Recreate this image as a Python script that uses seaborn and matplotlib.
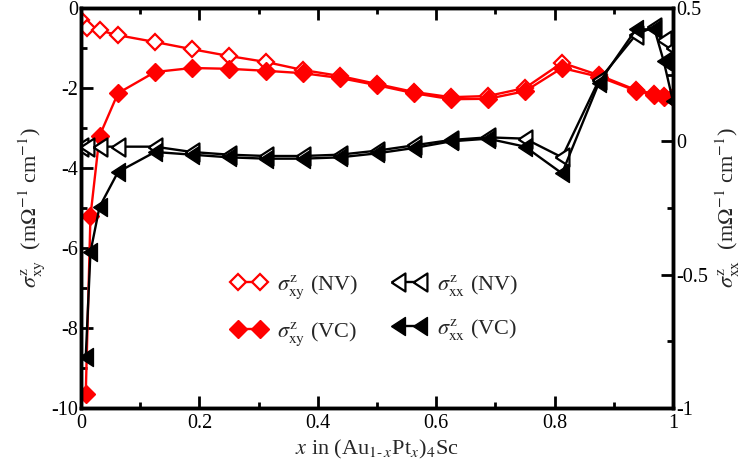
import matplotlib
matplotlib.use("Agg")

import matplotlib.pyplot as plt
import seaborn as sns
from matplotlib.ticker import MultipleLocator, FormatStrFormatter

# composition x for the two data sets (NV = no vertex corr., VC = with vertex corr.)
x_nv = [0.0, 0.01, 0.03125, 0.0625, 0.125, 0.1875, 0.25, 0.3125, 0.375, 0.4375, 0.5,
        0.5625, 0.625, 0.6875, 0.75, 0.8125, 0.875, 0.9375, 0.96875, 0.984375, 1.0]
x_vc = [0.008, 0.016, 0.03125, 0.0625, 0.125, 0.1875, 0.25, 0.3125, 0.375, 0.4375, 0.5,
        0.5625, 0.625, 0.6875, 0.75, 0.8125, 0.875, 0.9375, 0.96875, 0.984375, 1.0]

# sigma^z_xy, left axis
sxy_nv = [-0.3, -0.5, -0.56, -0.68, -0.85, -1.03, -1.2, -1.35, -1.55, -1.7, -1.9,
          -2.1, -2.23, -2.2, -2.0, -1.37, -1.68, -2.05, -2.15, -2.2, -2.22]
sxy_vc = [-9.65, -5.2, -3.2, -2.13, -1.6, -1.5, -1.52, -1.57, -1.63, -1.75, -1.93,
          -2.13, -2.28, -2.27, -2.08, -1.5, -1.72, -2.07, -2.17, -2.22, -2.22]

# sigma^z_xx, right axis
sxx_nv = [-0.02, -0.02, -0.02, -0.02, -0.02, -0.04, -0.05, -0.055, -0.055, -0.05, -0.035,
          -0.015, 0.005, 0.015, 0.01, -0.06, 0.23, 0.40, 0.43, 0.38, 0.35]
sxx_vc = [-0.81, -0.415, -0.246, -0.115, -0.04, -0.05, -0.06, -0.065, -0.065, -0.06, -0.045,
          -0.025, 0.0, 0.01, -0.02, -0.12, 0.22, 0.42, 0.42, 0.30, 0.15]

sns.set_style("ticks")
plt.rcParams["font.family"] = ["Liberation Serif", "DejaVu Serif"]
plt.rcParams["mathtext.fontset"] = "stix"
plt.rcParams["axes.unicode_minus"] = False

# grace-like left triangle, a bit taller than wide
tri = [(-1, 0), (1, -1.3), (1, 1.3), (-1, 0)]

fig = plt.figure(figsize=(7.56, 4.72), dpi=100)
ax = fig.add_axes([81 / 756, 64 / 472, 592 / 756, 400 / 472])
ax2 = ax.twinx()

lw = 1.7
sns.lineplot(x=x_nv, y=sxy_nv, ax=ax, color="red", lw=lw, marker="D", markersize=8.5,
             markerfacecolor="white", markeredgecolor="red", markeredgewidth=1.6,
             label=r"$\sigma^{\mathrm{z}}_{\mathrm{xy}}$ (NV)", legend=False)
sns.lineplot(x=x_vc, y=sxy_vc, ax=ax, color="red", lw=lw, marker="D", markersize=9,
             markerfacecolor="red", markeredgecolor="red", markeredgewidth=1.0,
             label=r"$\sigma^{\mathrm{z}}_{\mathrm{xy}}$ (VC)", legend=False)
sns.lineplot(x=x_nv, y=sxx_nv, ax=ax2, color="black", lw=lw, marker=tri, markersize=13,
             markerfacecolor="white", markeredgecolor="black", markeredgewidth=1.6,
             label=r"$\sigma^{\mathrm{z}}_{\mathrm{xx}}$ (NV)", legend=False)
sns.lineplot(x=x_vc, y=sxx_vc, ax=ax2, color="black", lw=lw, marker=tri, markersize=13,
             markerfacecolor="black", markeredgecolor="black", markeredgewidth=1.0,
             label=r"$\sigma^{\mathrm{z}}_{\mathrm{xx}}$ (VC)", legend=False)

ax.set_xlim(0, 1)
ax.set_ylim(-10, 0)
ax2.set_ylim(-1, 0.5)

ax.xaxis.set_major_locator(MultipleLocator(0.2))
ax.xaxis.set_minor_locator(MultipleLocator(0.1))
ax.yaxis.set_major_locator(MultipleLocator(2))
ax.yaxis.set_minor_locator(MultipleLocator(1))
ax2.yaxis.set_major_locator(MultipleLocator(0.5))
ax2.yaxis.set_minor_locator(MultipleLocator(0.25))
ax.xaxis.set_major_formatter(FormatStrFormatter("%g"))
ax.yaxis.set_major_formatter(FormatStrFormatter("%g"))
ax2.yaxis.set_major_formatter(FormatStrFormatter("%g"))

for a in (ax, ax2):
    for sp in a.spines.values():
        sp.set_linewidth(2.5)
        sp.set_color("black")
    a.tick_params(which="both", direction="in", width=2, colors="black", labelsize=14.5)
    a.tick_params(which="major", length=8.5)
    a.tick_params(which="minor", length=4.5)
ax.tick_params(axis="x", which="both", top=True, bottom=True, pad=4)
ax.tick_params(axis="y", which="both", left=True, right=False, pad=2)
ax2.tick_params(axis="y", which="both", right=True, left=False, pad=2)

ax.set_xlabel(r"$x$ in (Au$_{1\text{-}\,x}$Pt$_{x}$)$_{4}$Sc", fontsize=16, labelpad=4)
ax.set_ylabel(r"$\sigma^{\mathrm{z}}_{\mathrm{xy}}$  (m$\Omega^{-1}$ cm$^{-1}$)", fontsize=16, labelpad=3)
ax2.set_ylabel(r"$\sigma^{\mathrm{z}}_{\mathrm{xx}}$  (m$\Omega^{-1}$ cm$^{-1}$)", fontsize=16,
               rotation=90, labelpad=4)

handles = ax.lines + ax2.lines
labels = [h.get_label() for h in handles]
ax2.legend(handles, labels, ncol=2, frameon=False, numpoints=2, fontsize=16,
           loc="upper left", bbox_to_anchor=(0.235, 0.365), borderpad=0,
           handlelength=1.6, handletextpad=0.45, labelspacing=0.85, columnspacing=1.5)

fig.savefig("out.png", dpi=100)
